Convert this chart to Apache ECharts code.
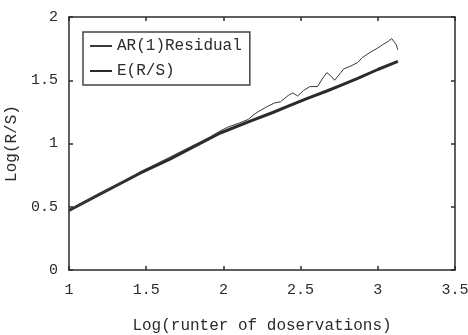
<!DOCTYPE html>
<html>
<head>
<meta charset="utf-8">
<script src="https://cdn.jsdelivr.net/npm/echarts@6/dist/echarts.min.js"></script>
<style>
  html, body { margin: 0; padding: 0; background: #fff; }
  #chart { width: 468px; height: 335px; }
</style>
</head>
<body>
<div id="chart"></div>
<script>
// log(n) vs log(R/S)
const residualX = [1.00, 1.20, 1.46, 1.65, 1.78, 1.91, 1.98, 2.03, 2.10, 2.16, 2.21, 2.28, 2.33, 2.37, 2.42, 2.45, 2.48, 2.52, 2.56, 2.61, 2.64, 2.67, 2.70, 2.72, 2.76, 2.78, 2.82, 2.87, 2.90, 2.95, 3.00, 3.03, 3.07, 3.09, 3.12, 3.13];
const residualY = [0.47, 0.60, 0.775, 0.89, 0.97, 1.05, 1.10, 1.13, 1.16, 1.19, 1.24, 1.29, 1.32, 1.33, 1.38, 1.40, 1.375, 1.42, 1.45, 1.45, 1.51, 1.56, 1.53, 1.50, 1.56, 1.59, 1.61, 1.64, 1.68, 1.72, 1.755, 1.78, 1.81, 1.83, 1.78, 1.74];

const expectedX = [1.00, 1.20, 1.46, 1.65, 1.98, 2.17, 2.32, 2.42, 2.54, 2.67, 2.76, 2.87, 3.00, 3.09, 3.13];
const expectedY = [0.47, 0.60, 0.765, 0.875, 1.083, 1.175, 1.245, 1.295, 1.355, 1.415, 1.46, 1.515, 1.585, 1.63, 1.65];

const xTicks = { min: 1, max: 3.5, step: 0.5 };
const yTicks = { min: 0, max: 2, step: 0.5 };

const font = '"Liberation Mono", "DejaVu Sans Mono", monospace';
const ink = '#2b2b2b';

const pairs = (xs, ys) => xs.map((x, i) => [x, ys[i]]);

const chart = echarts.init(document.getElementById('chart'), null, { renderer: 'canvas' });

const baseAxis = {
  type: 'value',
  axisLine: { show: true, onZero: false, lineStyle: { color: ink, width: 1.5 } },
  axisTick: { show: true, inside: true, length: 4, lineStyle: { color: ink, width: 1.5 } },
  splitLine: { show: false }
};

chart.setOption({
  backgroundColor: '#fff',
  animation: false,
  textStyle: { fontFamily: font, color: ink },
  grid: { left: 69, right: 13, top: 17, bottom: 65, containLabel: false, outerBoundsMode: 'none' },
  legend: {
    left: 83,
    top: 32,
    orient: 'vertical',
    itemGap: 9,
    itemWidth: 22,
    itemHeight: 14,
    itemStyle: { opacity: 0 },
    padding: [6, 8, 6, 6],
    borderColor: '#444',
    borderWidth: 1.5,
    textStyle: { fontFamily: font, fontSize: 16, color: ink },
    data: ['AR(1)Residual', 'E(R/S)']
  },
  xAxis: [
    {
      ...baseAxis,
      position: 'bottom',
      min: xTicks.min,
      max: xTicks.max,
      interval: xTicks.step,
      axisLabel: { fontFamily: font, fontSize: 15, color: ink, margin: 13 },
      name: 'Log(runter of doservations)',
      nameLocation: 'middle',
      nameGap: 48,
      nameTextStyle: { fontFamily: font, fontSize: 16, color: ink }
    },
    {
      ...baseAxis,
      position: 'top',
      min: xTicks.min,
      max: xTicks.max,
      interval: xTicks.step,
      axisLabel: { show: false }
    }
  ],
  yAxis: [
    {
      ...baseAxis,
      position: 'left',
      min: yTicks.min,
      max: yTicks.max,
      interval: yTicks.step,
      axisLabel: { fontFamily: font, fontSize: 15, color: ink, margin: 11 },
      name: 'Log(R/S)',
      nameLocation: 'middle',
      nameRotate: 90,
      nameGap: 47,
      nameTextStyle: { fontFamily: font, fontSize: 16, color: ink }
    },
    {
      ...baseAxis,
      position: 'right',
      min: yTicks.min,
      max: yTicks.max,
      interval: yTicks.step,
      axisLabel: { show: false }
    }
  ],
  series: [
    {
      name: 'AR(1)Residual',
      type: 'line',
      data: pairs(residualX, residualY),
      symbol: 'none',
      lineStyle: { color: '#3a3a3a', width: 1 },
      itemStyle: { color: '#3a3a3a' },
      z: 3
    },
    {
      name: 'E(R/S)',
      type: 'line',
      data: pairs(expectedX, expectedY),
      symbol: 'none',
      lineStyle: { color: '#2b2b2b', width: 3 },
      itemStyle: { color: '#2b2b2b' },
      z: 2
    }
  ]
});
</script>
</body>
</html>
